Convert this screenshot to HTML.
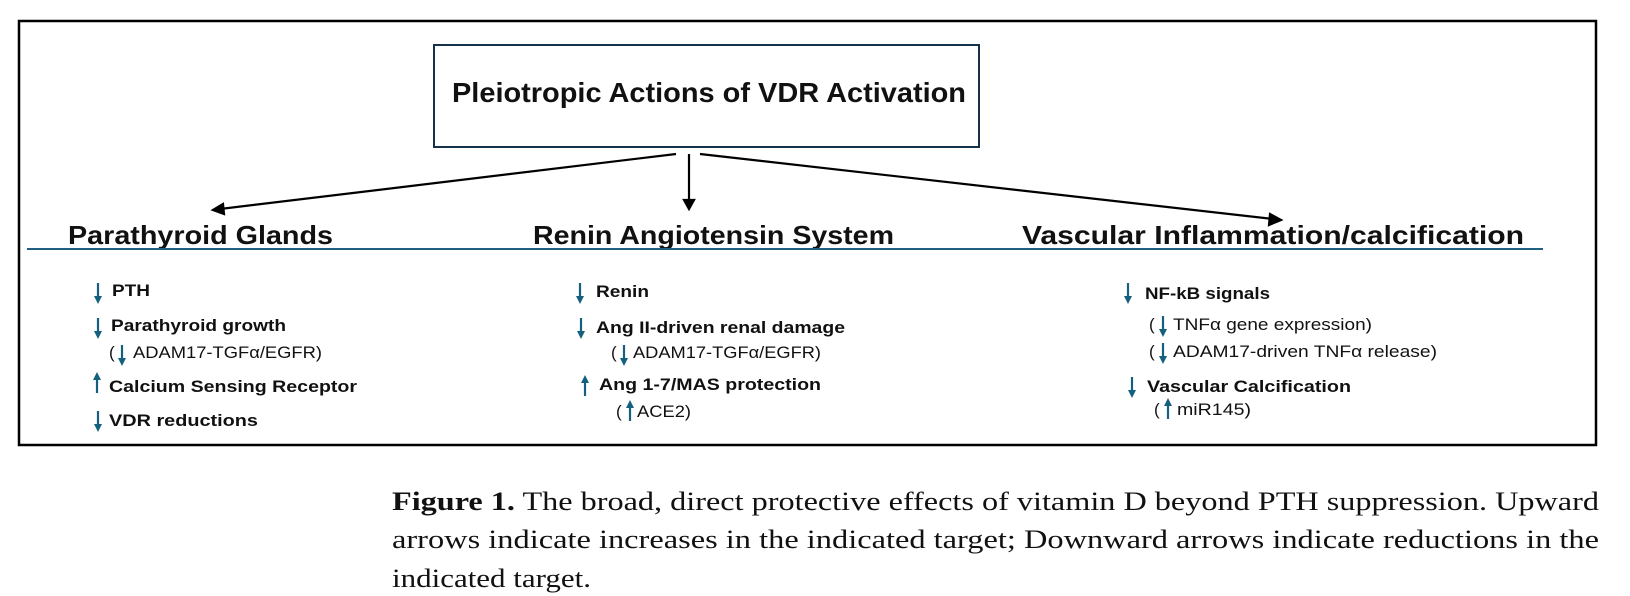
<!DOCTYPE html>
<html><head><meta charset="utf-8"><style>
html,body{margin:0;padding:0;background:#fff;}
svg{display:block;}
.h{font-family:"Liberation Sans",sans-serif;font-weight:bold;fill:#111;}
.b{font-family:"Liberation Sans",sans-serif;font-weight:bold;font-size:17px;fill:#111;}
.n{font-family:"Liberation Sans",sans-serif;font-size:17px;fill:#111;}
.c{font-family:"Liberation Serif",serif;font-size:26px;fill:#111;}
</style></head><body>
<svg width="1630" height="596" viewBox="0 0 1630 596" xmlns="http://www.w3.org/2000/svg">
<defs>
<g id="dn"><line x1="0" y1="0" x2="0" y2="15" stroke="#16607f" stroke-width="2.2"/><polygon points="-4,13 4,13 0,21" fill="#16607f"/></g>
<g id="up"><line x1="0" y1="6" x2="0" y2="21" stroke="#16607f" stroke-width="2.2"/><polygon points="-4,8 4,8 0,0" fill="#16607f"/></g>
</defs>
<rect x="19" y="21" width="1577" height="424" fill="none" stroke="#000" stroke-width="2.5"/>
<rect x="434" y="45" width="545" height="102" fill="none" stroke="#16324a" stroke-width="2"/>
<text class="h" x="452" y="102" font-size="28" textLength="514" lengthAdjust="spacingAndGlyphs">Pleiotropic Actions of VDR Activation</text>
<g stroke="#000" stroke-width="2.2" fill="#000">
<line x1="676" y1="154" x2="220" y2="209"/><polygon points="213,210 223,204 224,214"/>
<line x1="689" y1="154" x2="689" y2="202"/><polygon points="684,200 694,200 689,209"/>
<line x1="700" y1="154" x2="1273" y2="219"/><polygon points="1281,220 1270,214 1269,225"/>
</g>
<text class="h" x="68" y="244" font-size="26" textLength="265" lengthAdjust="spacingAndGlyphs">Parathyroid Glands</text>
<text class="h" x="533" y="244" font-size="26" textLength="361" lengthAdjust="spacingAndGlyphs">Renin Angiotensin System</text>
<text class="h" x="1022" y="244" font-size="26" textLength="502" lengthAdjust="spacingAndGlyphs">Vascular Inflammation/calcification</text>
<line x1="27" y1="249" x2="1543" y2="249" stroke="#1f5f7f" stroke-width="2"/>

<use href="#dn" x="98" y="283"/><text class="b" x="112" y="296" textLength="38" lengthAdjust="spacingAndGlyphs">PTH</text>
<use href="#dn" x="98" y="318"/><text class="b" x="111" y="331" textLength="175" lengthAdjust="spacingAndGlyphs">Parathyroid growth</text>
<text class="n" x="109" y="358">(</text><use href="#dn" x="122" y="345"/><text class="n" x="133" y="358" textLength="189" lengthAdjust="spacingAndGlyphs">ADAM17-TGFα/EGFR)</text>
<use href="#up" x="97" y="372"/><text class="b" x="109" y="392" textLength="248" lengthAdjust="spacingAndGlyphs">Calcium Sensing Receptor</text>
<use href="#dn" x="98" y="411"/><text class="b" x="109" y="426" textLength="149" lengthAdjust="spacingAndGlyphs">VDR  reductions</text>

<use href="#dn" x="580" y="283"/><text class="b" x="596" y="297" textLength="53" lengthAdjust="spacingAndGlyphs">Renin</text>
<use href="#dn" x="581" y="318"/><text class="b" x="596" y="333" textLength="249" lengthAdjust="spacingAndGlyphs">Ang II-driven renal damage</text>
<text class="n" x="611" y="358">(</text><use href="#dn" x="624" y="345"/><text class="n" x="633" y="358" textLength="188" lengthAdjust="spacingAndGlyphs">ADAM17-TGFα/EGFR)</text>
<use href="#up" x="585" y="375"/><text class="b" x="599" y="390" textLength="222" lengthAdjust="spacingAndGlyphs">Ang 1-7/MAS protection</text>
<text class="n" x="616" y="417">(</text><use href="#up" x="630" y="400"/><text class="n" x="637" y="417" textLength="54" lengthAdjust="spacingAndGlyphs">ACE2)</text>

<use href="#dn" x="1128" y="283"/><text class="b" x="1145" y="299" textLength="125" lengthAdjust="spacingAndGlyphs">NF-kB signals</text>
<text class="n" x="1149" y="330">(</text><use href="#dn" x="1163" y="316"/><text class="n" x="1173" y="330" textLength="199" lengthAdjust="spacingAndGlyphs">TNFα gene expression)</text>
<text class="n" x="1149" y="357">(</text><use href="#dn" x="1163" y="343"/><text class="n" x="1173" y="357" textLength="264" lengthAdjust="spacingAndGlyphs">ADAM17-driven TNFα release)</text>
<use href="#dn" x="1132" y="377"/><text class="b" x="1147" y="392" textLength="204" lengthAdjust="spacingAndGlyphs">Vascular Calcification</text>
<text class="n" x="1154" y="415">(</text><use href="#up" x="1168" y="398"/><text class="n" x="1177" y="415" textLength="74" lengthAdjust="spacingAndGlyphs">miR145)</text>

<text class="c" x="392" y="510" textLength="1207" lengthAdjust="spacingAndGlyphs"><tspan font-weight="bold">Figure 1.</tspan>  The broad, direct protective effects of vitamin D beyond PTH suppression.  Upward</text>
<text class="c" x="392" y="548" textLength="1207" lengthAdjust="spacingAndGlyphs">arrows indicate increases in the indicated target; Downward arrows indicate reductions in the</text>
<text class="c" x="392" y="587" textLength="199" lengthAdjust="spacingAndGlyphs">indicated target.</text>
</svg>
</body></html>
